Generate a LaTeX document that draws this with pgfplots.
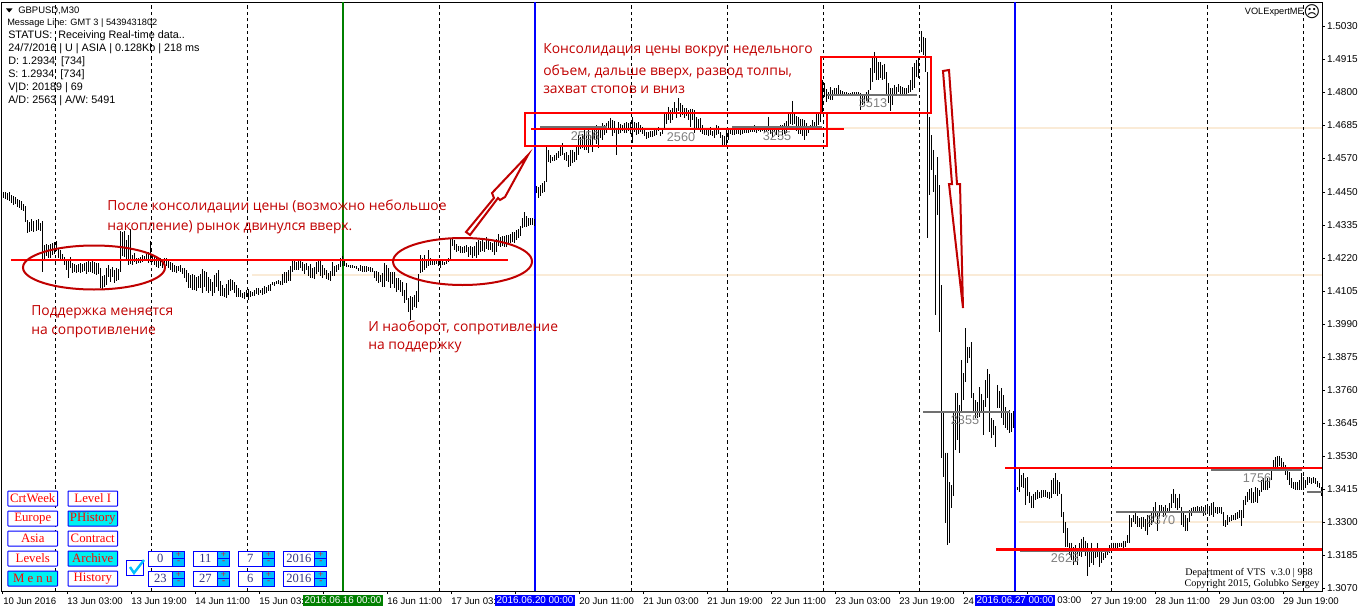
\documentclass[border=0pt]{standalone}
\usepackage{fontspec}
\usepackage{pgfplots}
\usepackage{pgfplotstable}
\pgfplotsset{compat=1.18}
\setmainfont{Liberation Sans}
\newfontfamily\ann{Open Sans}
\newfontfamily\ser{Liberation Serif}
\newfontfamily\dv{DejaVu Sans}
\definecolor{annred}{HTML}{C00000}
\definecolor{cream}{HTML}{FAEBD7}
\definecolor{lvl}{HTML}{707070}
\definecolor{cy}{HTML}{00F0F0}
\definecolor{cb}{HTML}{00BFFF}
\pgfplotstableread{
hi lo
1.4451 1.4430
1.4451 1.4426
1.4447 1.4423
1.4451 1.4420
1.4440 1.4413
1.4437 1.4406
1.4433 1.4409
1.4426 1.4399
1.4423 1.4395
1.4420 1.4388
1.4409 1.4385
1.4402 1.4346
1.4353 1.4308
1.4346 1.4311
1.4357 1.4315
1.4350 1.4311
1.4353 1.4315
1.4357 1.4318
1.4343 1.4315
1.4350 1.4172
1.4266 1.4214
1.4269 1.4228
1.4266 1.4221
1.4269 1.4221
1.4273 1.4231
1.4276 1.4235
1.4280 1.4245
1.4255 1.4221
1.4248 1.4214
1.4235 1.4210
1.4224 1.4196
1.4217 1.4179
1.4217 1.4151
1.4224 1.4186
1.4203 1.4168
1.4200 1.4172
1.4196 1.4168
1.4200 1.4172
1.4203 1.4168
1.4200 1.4172
1.4203 1.4175
1.4207 1.4165
1.4210 1.4172
1.4207 1.4172
1.4210 1.4168
1.4207 1.4165
1.4203 1.4161
1.4203 1.4165
}\sA
\pgfplotstableread{
hi lo
1.4186 1.4116
1.4158 1.4112
1.4161 1.4119
1.4186 1.4126
1.4196 1.4154
1.4182 1.4137
1.4189 1.4154
1.4179 1.4133
1.4186 1.4140
1.4182 1.4144
1.4315 1.4172
1.4311 1.4228
1.4315 1.4224
1.4283 1.4214
1.4301 1.4196
1.4322 1.4200
1.4231 1.4196
1.4238 1.4207
1.4221 1.4200
1.4221 1.4203
1.4224 1.4203
1.4231 1.4207
1.4228 1.4210
1.4235 1.4210
1.4242 1.4203
1.4280 1.4207
1.4235 1.4207
1.4231 1.4196
1.4224 1.4189
1.4221 1.4186
1.4221 1.4193
1.4214 1.4186
1.4221 1.4196
1.4221 1.4193
1.4210 1.4186
1.4207 1.4179
1.4203 1.4172
1.4196 1.4172
1.4193 1.4168
1.4193 1.4175
1.4196 1.4172
1.4186 1.4165
1.4186 1.4151
1.4179 1.4137
1.4168 1.4116
1.4161 1.4116
1.4165 1.4109
1.4161 1.4109
1.4154 1.4105
1.4158 1.4116
}\sB
\pgfplotstableread{
hi lo
1.4165 1.4116
1.4182 1.4098
1.4175 1.4119
1.4172 1.4105
1.4154 1.4098
1.4147 1.4105
1.4137 1.4088
1.4161 1.4098
1.4168 1.4119
1.4179 1.4105
1.4140 1.4088
1.4126 1.4088
1.4116 1.4084
1.4130 1.4081
1.4144 1.4091
1.4147 1.4105
1.4144 1.4109
1.4137 1.4098
1.4126 1.4084
1.4116 1.4084
1.4109 1.4084
1.4098 1.4081
1.4102 1.4077
1.4109 1.4084
1.4112 1.4074
1.4105 1.4084
1.4102 1.4088
1.4109 1.4088
1.4116 1.4095
1.4116 1.4091
1.4109 1.4098
1.4116 1.4091
1.4123 1.4095
1.4119 1.4098
1.4126 1.4105
1.4130 1.4105
1.4137 1.4126
1.4137 1.4123
1.4140 1.4130
1.4144 1.4130
1.4140 1.4126
1.4165 1.4126
1.4172 1.4133
1.4172 1.4133
1.4179 1.4140
1.4193 1.4140
1.4214 1.4172
1.4214 1.4179
1.4207 1.4179
1.4214 1.4179
}\sC
\pgfplotstableread{
hi lo
1.4210 1.4186
1.4207 1.4175
1.4200 1.4165
1.4203 1.4179
1.4193 1.4158
1.4200 1.4151
1.4186 1.4151
1.4189 1.4147
1.4207 1.4165
1.4210 1.4172
1.4214 1.4158
1.4196 1.4151
1.4186 1.4161
1.4179 1.4147
1.4168 1.4144
1.4175 1.4140
1.4207 1.4158
1.4193 1.4158
1.4196 1.4172
1.4200 1.4179
1.4221 1.4189
1.4228 1.4193
1.4214 1.4193
1.4203 1.4189
1.4196 1.4189
1.4196 1.4186
1.4196 1.4186
1.4193 1.4186
1.4193 1.4182
1.4186 1.4175
1.4196 1.4175
1.4193 1.4172
1.4193 1.4172
1.4193 1.4172
1.4189 1.4175
1.4189 1.4172
1.4186 1.4172
1.4175 1.4151
1.4175 1.4140
1.4172 1.4133
1.4161 1.4137
1.4168 1.4119
1.4203 1.4119
1.4196 1.4140
1.4186 1.4137
1.4172 1.4116
1.4172 1.4130
1.4172 1.4116
1.4151 1.4102
1.4151 1.4109
}\sD
\pgfplotstableread{
hi lo
1.4144 1.4102
1.4137 1.4088
1.4109 1.4063
1.4133 1.4074
1.4081 1.4032
1.4088 1.4004
1.4084 1.4039
1.4091 1.4050
1.4105 1.4046
1.4165 1.4067
1.4231 1.4168
1.4221 1.4172
1.4231 1.4179
1.4217 1.4186
1.4248 1.4193
1.4221 1.4196
1.4214 1.4196
1.4217 1.4196
1.4217 1.4200
1.4210 1.4193
1.4214 1.4186
1.4214 1.4196
1.4207 1.4196
1.4217 1.4200
1.4221 1.4207
1.4287 1.4214
1.4287 1.4262
1.4283 1.4248
1.4269 1.4242
1.4262 1.4245
1.4262 1.4238
1.4259 1.4238
1.4262 1.4238
1.4266 1.4242
1.4259 1.4224
1.4262 1.4231
1.4259 1.4221
1.4262 1.4228
1.4276 1.4221
1.4283 1.4231
1.4280 1.4242
1.4283 1.4245
1.4276 1.4242
1.4294 1.4252
1.4283 1.4248
1.4276 1.4248
1.4273 1.4242
1.4280 1.4231
1.4287 1.4242
1.4304 1.4262
}\sE
\pgfplotstableread{
hi lo
1.4294 1.4259
1.4297 1.4262
1.4297 1.4259
1.4301 1.4259
1.4301 1.4266
1.4304 1.4273
1.4311 1.4276
1.4311 1.4273
1.4318 1.4283
1.4322 1.4290
1.4332 1.4297
1.4360 1.4325
1.4381 1.4329
1.4367 1.4329
1.4360 1.4332
1.4360 1.4336
1.4360 1.4336
1.4357 1.4332
1.4472 1.4448
1.4468 1.4430
1.4475 1.4437
1.4482 1.4447
1.4489 1.4451
1.4608 1.4486
1.4598 1.4556
1.4580 1.4552
1.4573 1.4559
1.4580 1.4559
1.4587 1.4563
1.4594 1.4570
1.4611 1.4577
1.4622 1.4580
1.4587 1.4563
1.4591 1.4559
1.4580 1.4538
1.4598 1.4542
1.4598 1.4552
1.4591 1.4556
1.4611 1.4563
1.4650 1.4580
1.4643 1.4601
1.4653 1.4604
1.4667 1.4598
1.4646 1.4598
1.4667 1.4587
1.4650 1.4611
1.4667 1.4591
1.4674 1.4632
1.4685 1.4618
1.4681 1.4604
}\sF
\pgfplotstableread{
hi lo
1.4681 1.4639
1.4692 1.4632
1.4685 1.4650
1.4692 1.4657
1.4699 1.4667
1.4709 1.4667
1.4702 1.4646
1.4699 1.4657
1.4674 1.4580
1.4695 1.4653
1.4688 1.4657
1.4685 1.4664
1.4692 1.4657
1.4695 1.4657
1.4692 1.4664
1.4695 1.4653
1.4713 1.4622
1.4695 1.4660
1.4692 1.4650
1.4695 1.4653
1.4685 1.4660
1.4678 1.4653
1.4671 1.4646
1.4660 1.4636
1.4660 1.4639
1.4664 1.4643
1.4664 1.4643
1.4667 1.4646
1.4674 1.4650
1.4678 1.4664
1.4660 1.4646
1.4671 1.4653
1.4727 1.4674
1.4727 1.4688
1.4748 1.4702
1.4737 1.4692
1.4744 1.4702
1.4765 1.4730
1.4744 1.4709
1.4779 1.4734
1.4762 1.4713
1.4755 1.4720
1.4744 1.4709
1.4744 1.4716
1.4737 1.4702
1.4741 1.4678
1.4741 1.4702
1.4737 1.4657
1.4713 1.4674
1.4706 1.4667
}\sG
\pgfplotstableread{
hi lo
1.4709 1.4660
1.4685 1.4653
1.4674 1.4650
1.4671 1.4650
1.4667 1.4646
1.4678 1.4650
1.4664 1.4646
1.4667 1.4639
1.4685 1.4650
1.4681 1.4653
1.4660 1.4639
1.4650 1.4615
1.4646 1.4611
1.4667 1.4615
1.4667 1.4632
1.4674 1.4653
1.4667 1.4650
1.4667 1.4650
1.4671 1.4653
1.4674 1.4653
1.4671 1.4650
1.4674 1.4653
1.4678 1.4657
1.4674 1.4657
1.4678 1.4657
1.4678 1.4660
1.4681 1.4660
1.4685 1.4660
1.4678 1.4657
1.4681 1.4664
1.4678 1.4660
1.4674 1.4664
1.4678 1.4657
1.4681 1.4660
1.4713 1.4664
1.4678 1.4653
1.4674 1.4643
1.4674 1.4660
1.4671 1.4650
1.4681 1.4643
1.4685 1.4667
1.4685 1.4650
1.4692 1.4653
1.4699 1.4657
1.4727 1.4674
1.4730 1.4688
1.4769 1.4685
1.4723 1.4688
1.4716 1.4664
1.4713 1.4653
}\sH
\pgfplotstableread{
hi lo
1.4706 1.4653
1.4706 1.4646
1.4702 1.4632
1.4692 1.4646
1.4678 1.4657
1.4685 1.4667
1.4702 1.4667
1.4695 1.4674
1.4723 1.4674
1.4730 1.4685
1.4744 1.4695
1.4842 1.4727
1.4831 1.4782
1.4810 1.4765
1.4800 1.4775
1.4817 1.4772
1.4807 1.4772
1.4814 1.4786
1.4814 1.4789
1.4824 1.4793
1.4807 1.4789
1.4803 1.4786
1.4800 1.4786
1.4800 1.4786
1.4797 1.4786
1.4797 1.4786
1.4800 1.4786
1.4800 1.4786
1.4800 1.4789
1.4800 1.4786
1.4797 1.4737
1.4789 1.4755
1.4793 1.4758
1.4800 1.4769
1.4807 1.4765
1.4884 1.4807
1.4922 1.4835
1.4940 1.4866
1.4922 1.4842
1.4905 1.4842
1.4905 1.4849
1.4894 1.4842
1.4898 1.4845
1.4870 1.4789
1.4831 1.4762
1.4814 1.4734
1.4814 1.4755
1.4824 1.4789
1.4817 1.4793
1.4828 1.4800
}\sI
\pgfplotstableread{
hi lo
1.4821 1.4793
1.4817 1.4786
1.4814 1.4793
1.4814 1.4789
1.4824 1.4797
1.4842 1.4800
1.4887 1.4807
1.4901 1.4814
1.4912 1.4852
1.4919 1.4849
}\sJ
\pgfplotstableread{
hi lo
1.5013 1.4940
1.4992 1.4929
1.4988 1.4870
1.4870 1.4290
1.4713 1.4440
1.4650 1.4528
1.4598 1.4451
1.4510 1.4022
1.4573 1.4371
1.4475 1.3962
1.4126 1.3523
1.3680 1.3456
1.3543 1.3296
1.3543 1.3219
1.3439 1.3229
1.3428 1.3348
1.3680 1.3393
1.3749 1.3550
1.3749 1.3585
1.3708 1.3543
1.3865 1.3680
1.3819 1.3725
1.3976 1.3788
1.3910 1.3854
1.3910 1.3872
1.3927 1.3732
1.3749 1.3683
1.3725 1.3662
1.3718 1.3662
1.3770 1.3666
1.3746 1.3680
1.3725 1.3603
1.3795 1.3701
1.3833 1.3732
1.3816 1.3613
1.3662 1.3592
1.3655 1.3603
1.3634 1.3561
1.3777 1.3697
1.3756 1.3697
1.3767 1.3662
1.3742 1.3638
1.3701 1.3627
1.3680 1.3620
1.3690 1.3610
1.3680 1.3613
1.3687 1.3627
}\sK
\pgfplotstableread{
hi lo
1.3421 1.3411
1.3488 1.3404
1.3463 1.3421
1.3470 1.3418
1.3453 1.3359
1.3456 1.3393
1.3404 1.3366
1.3393 1.3348
1.3400 1.3348
1.3404 1.3376
1.3411 1.3380
1.3407 1.3383
1.3411 1.3383
1.3411 1.3387
1.3411 1.3387
1.3407 1.3383
1.3407 1.3380
1.3446 1.3383
1.3453 1.3400
1.3470 1.3400
1.3446 1.3393
1.3439 1.3400
1.3400 1.3317
1.3334 1.3264
1.3299 1.3212
1.3278 1.3212
1.3229 1.3184
1.3229 1.3167
1.3212 1.3149
1.3219 1.3160
1.3208 1.3149
1.3226 1.3181
1.3243 1.3177
1.3247 1.3201
1.3236 1.3181
1.3226 1.3114
1.3201 1.3142
1.3229 1.3156
1.3208 1.3149
1.3208 1.3174
1.3226 1.3177
1.3195 1.3142
1.3201 1.3156
1.3191 1.3167
1.3201 1.3174
1.3208 1.3184
1.3219 1.3191
1.3229 1.3201
1.3229 1.3205
1.3226 1.3208
}\sL
\pgfplotstableread{
hi lo
1.3226 1.3205
1.3229 1.3212
1.3229 1.3212
1.3233 1.3208
1.3233 1.3215
1.3254 1.3226
1.3324 1.3229
1.3313 1.3282
1.3324 1.3299
1.3331 1.3292
1.3320 1.3282
1.3313 1.3282
1.3317 1.3275
1.3317 1.3282
1.3310 1.3271
1.3324 1.3254
1.3324 1.3282
1.3338 1.3289
1.3352 1.3299
1.3369 1.3317
1.3338 1.3271
1.3359 1.3317
1.3359 1.3331
1.3352 1.3317
1.3359 1.3324
1.3348 1.3331
1.3366 1.3334
1.3400 1.3348
1.3414 1.3366
1.3400 1.3348
1.3383 1.3341
1.3400 1.3348
1.3352 1.3289
1.3331 1.3282
1.3324 1.3271
1.3313 1.3271
1.3341 1.3299
1.3348 1.3320
1.3352 1.3331
1.3352 1.3331
1.3355 1.3331
1.3352 1.3334
1.3355 1.3331
1.3352 1.3320
1.3359 1.3324
1.3362 1.3327
1.3355 1.3320
1.3366 1.3324
1.3369 1.3317
1.3352 1.3331
}\sM
\pgfplotstableread{
hi lo
1.3352 1.3327
1.3352 1.3331
1.3352 1.3327
1.3334 1.3285
1.3306 1.3282
1.3324 1.3289
1.3317 1.3299
1.3324 1.3303
1.3324 1.3306
1.3331 1.3306
1.3334 1.3310
1.3341 1.3313
1.3341 1.3285
1.3376 1.3313
1.3393 1.3359
1.3404 1.3369
1.3414 1.3376
1.3418 1.3366
1.3404 1.3366
1.3421 1.3369
1.3418 1.3366
1.3411 1.3393
1.3446 1.3404
1.3453 1.3411
1.3446 1.3411
1.3453 1.3411
1.3453 1.3418
1.3481 1.3446
1.3516 1.3481
1.3526 1.3488
1.3530 1.3491
1.3530 1.3495
1.3523 1.3491
1.3509 1.3481
1.3498 1.3463
1.3488 1.3446
1.3474 1.3428
1.3453 1.3418
1.3439 1.3414
1.3439 1.3411
1.3439 1.3411
1.3446 1.3411
1.3470 1.3411
1.3456 1.3411
1.3446 1.3418
1.3456 1.3428
1.3456 1.3435
1.3453 1.3432
1.3456 1.3435
1.3453 1.3432
1.3442 1.3421
1.3435 1.3418
1.3421 1.3393
}\sN
\newcommand\bars[2]{\addplot[draw=none,mark=none,forget plot,
  error bars/.cd,y dir=minus,y explicit,error mark=none,
  error bar style={black,line width=.75pt,solid}]
  table[x expr=\coordindex*2+#1,y=hi,y error expr=\thisrow{hi}-\thisrow{lo}] {#2};}
\newcommand\btn[6]{\draw[blue,line width=.75pt,fill=#5,rounded corners=.4pt] (#1,#2) rectangle (#3,#4);
  \node[text=red,font=\ser\fontsize{9.6}{10}\selectfont,inner sep=0pt] at ({(#1+#3)/2},{(#2+#4)/2}) {#6};}
\newcommand\spin[4]{\draw[blue,line width=.75pt,fill=white] (#1,#3) rectangle (#2-12,#3+15);
  \draw[blue,line width=.75pt,fill=cb] (#2-12,#3) rectangle (#2,#3+15);
  \draw[blue,line width=.75pt] (#2-12,#3+7.5) -- (#2,#3+7.5);
  \node[text=red,font=\ser\fontsize{7}{7}\selectfont,inner sep=0pt] at (#2-6,#3+3.6) {+};
  \node[text=red,font=\ser\fontsize{7}{7}\selectfont,inner sep=0pt] at (#2-6,#3+11.4) {-};
  \node[text={rgb,255:red,50;green,50;blue,130},font=\ser\fontsize{9.4}{10}\selectfont,inner sep=0pt] at ({(#1+#2-12)/2},#3+7.5) {#4};}
\newcommand\annot[3]{\node[anchor=west,inner sep=0pt,text=annred,font=\ann\fontsize{10.4}{12}\selectfont] at (#1,#2+1.5) {#3};}
\begin{document}
\begin{tikzpicture}
\useasboundingbox (-1.5pt,-15.75pt) rectangle (1020pt,443.25pt);
\begin{axis}[at={(0,0)},anchor=south west,scale only axis,width=990pt,height=441.75pt,
  xmin=2,xmax=1322,ymin=1.3060,ymax=1.5114,
  axis line style={black,line width=.75pt},
  tick align=outside,major tick length=2.4pt,tick style={black,line width=.75pt},
  ytick pos=right,xtick pos=bottom,yticklabel pos=right,
  ytick={1.3070,1.3185,1.3300,1.3415,1.3530,1.3645,1.3760,1.3875,1.3990,1.4105,1.4220,1.4335,1.4450,1.4570,1.4685,1.4800,1.4915,1.5030},
  yticklabel style={/pgf/number format/fixed,/pgf/number format/fixed zerofill,/pgf/number format/precision=4,/pgf/number format/assume math mode=true,font=\fontsize{7.5}{9}\selectfont,anchor=west,xshift=-.8pt,inner sep=2pt},
  scaled y ticks=false,
  xtick={3,67,131,195,259,323,387,451,515,579,643,707,771,835,899,963,1027,1091,1155,1219,1283},
  xticklabels={10 Jun 2016,13 Jun 03:00,13 Jun 19:00,14 Jun 11:00,15 Jun 03:,,16 Jun 11:00,17 Jun 03:,,20 Jun 11:00,21 Jun 03:00,21 Jun 19:00,22 Jun 11:00,23 Jun 03:00,23 Jun 19:00,24,,27 Jun 19:00,28 Jun 11:00,29 Jun 03:00,29 Jun 19:00},
  xticklabel style={font=\fontsize{7.2}{9}\selectfont,anchor=north west,inner sep=0pt,yshift=-2.4pt,xshift=0pt},
  clip=true,
]
% support levels (cream)
\addplot[cream,line width=1.5pt,forget plot] coordinates {(252,1.4161)(1322,1.4161)};
\addplot[cream,line width=1.5pt,forget plot] coordinates {(540,1.4674)(1322,1.4674)};
\addplot[cream,line width=1.5pt,forget plot] coordinates {(1019,1.3299)(1322,1.3299)};
% day separators
\pgfplotsinvokeforeach{55,151,247,439,631,727,823,919,1111,1207,1303}{
  \addplot[black,line width=.75pt,dash pattern=on 2.6pt off 2.2pt,forget plot] coordinates {(#1,1.3060)(#1,1.5114)};
}
\addplot[color={rgb,255:red,0;green,128;blue,0},line width=1.7pt,forget plot] coordinates {(343,1.3060)(343,1.5114)};
\addplot[blue,line width=1.7pt,forget plot] coordinates {(535,1.3060)(535,1.5114)};
\addplot[blue,line width=1.7pt,forget plot] coordinates {(1015,1.3060)(1015,1.5114)};
% price bars
\bars{4}{\sA}\bars{100}{\sB}\bars{200}{\sC}\bars{300}{\sD}\bars{400}{\sE}\bars{500}{\sF}\bars{600}{\sG}\bars{700}{\sH}\bars{800}{\sI}\bars{900}{\sJ}\bars{921}{\sK}\bars{1017}{\sL}\bars{1117}{\sM}\bars{1217}{\sN}
% volume levels (grey)
\addplot[lvl,line width=1.5pt,forget plot] coordinates {(540,1.4678)(607,1.4678)};
\addplot[lvl,line width=1.5pt,forget plot] coordinates {(732,1.4678)(822,1.4678)};
\addplot[lvl,line width=1.5pt,forget plot] coordinates {(827,1.4789)(917,1.4789)};
\addplot[lvl,line width=1.5pt,forget plot] coordinates {(923,1.3683)(1010,1.3683)};
\addplot[lvl,line width=1.5pt,forget plot] coordinates {(1020,1.3201)(1110,1.3201)};
\addplot[lvl,line width=1.5pt,forget plot] coordinates {(1116,1.3334)(1206,1.3334)};
\addplot[lvl,line width=1.5pt,forget plot] coordinates {(1211,1.3481)(1302,1.3481)};
\addplot[lvl,line width=1.5pt,forget plot] coordinates {(1307,1.3407)(1322,1.3407)};
% red levels
\addplot[red,line width=1.7pt,forget plot] coordinates {(11,1.4214)(508,1.4214)};
\addplot[red,line width=1.7pt,forget plot] coordinates {(531,1.4671)(844,1.4671)};
\addplot[red,line width=1.7pt,forget plot] coordinates {(1005,1.3488)(1322,1.3488)};
\addplot[red,line width=1.7pt,forget plot] coordinates {(996,1.3205)(1322,1.3205)};
\end{axis}
\begin{scope}[x=.75pt,y=-.75pt,shift={(-1.5pt,443.25pt)}]
% hover boxes on the time scale
\fill[color={rgb,255:red,0;green,128;blue,0}] (303,595) rectangle (383,606);
\node[white,inner sep=0pt,font=\fontsize{7.4}{9}\selectfont] at (343,600.5) {2016.06.16 00:00};
\fill[blue] (495,595) rectangle (575,606);
\node[white,inner sep=0pt,font=\fontsize{7.4}{9}\selectfont] at (535,600.5) {2016.06.20 00:00};
\fill[blue] (975,595) rectangle (1055,606);
\node[white,inner sep=0pt,font=\fontsize{7.4}{9}\selectfont] at (1015,600.5) {2016.06.27 00:00};
\node[anchor=west,inner sep=0pt,font=\fontsize{7.2}{9}\selectfont] at (1057,600.5) {03:00};
% boxes
\draw[red,line width=1.7pt] (525,113) rectangle (827,146);
\draw[red,line width=1.7pt] (821,57) rectangle (931,113);
\draw[annred,line width=1.5pt] (94,267.5) ellipse (71 and 22);
\draw[annred,line width=1.5pt] (462.5,261.5) ellipse (69.5 and 23.5);
\draw[annred,line width=1.5pt,line join=miter] (466,232)--(494,198)--(492,193)--(528,155)--(505,197)--(500,200)--(498,198)--(470,235)--cycle;
\draw[annred,line width=1.5pt,line join=miter] (943,71)--(949,70)--(957,184)--(960,184)--(963,308)--(949,184)--(952,184)--cycle;
% annotations
\annot{107}{205}{После консолидации цены (возможно небольшое}
\annot{107}{226}{накопление) рынок двинулся вверх.}
\annot{31}{311}{Поддержка меняется}
\annot{31}{331}{на сопротивление}
\annot{368}{326}{И наоборот, сопротивление}
\annot{368}{346}{на поддержку}
\annot{543}{49}{Консолидация цены вокруг недельного}
\annot{543}{70}{объем, дальше вверх, развод толпы,}
\annot{543}{88}{захват стопов и вниз}
% level volumes
\foreach \px/\py/\t in {585/136/2556,681/137/2560,777/136/3255,873/103/3513,965/420/2355,1065/558/2623,1161/520/3370,1257/478/1756}
  \node[text={rgb,255:red,128;green,128;blue,128},inner sep=0pt,font=\fontsize{9.5}{10}\selectfont] at (\px,\py) {\t};
% header
\fill[black] (6,8.5)--(12.5,8.5)--(9.2,12.5)--cycle;
\node[anchor=west,inner sep=0pt,font=\fontsize{7.1}{9}\selectfont] at (18,10.5) {GBPUSD,M30};
\node[anchor=west,inner sep=0pt,font=\fontsize{6.9}{8}\selectfont] at (7,23.5) {Message Line: GMT 3 | 5439431802};
\node[anchor=west,inner sep=0pt,font=\fontsize{8.1}{9}\selectfont] at (8,36) {STATUS:\ \ Receiving Real-time data..};
\node[anchor=west,inner sep=0pt,font=\fontsize{8.1}{9}\selectfont] at (8,49) {24/7/2016 | U | ASIA | 0.128Kb | 218 ms};
\node[anchor=west,inner sep=0pt,font=\fontsize{8.1}{9}\selectfont] at (8,62) {D: 1.2934\ \ [734]};
\node[anchor=west,inner sep=0pt,font=\fontsize{8.1}{9}\selectfont] at (8,75) {S: 1.2934\ \ [734]};
\node[anchor=west,inner sep=0pt,font=\fontsize{8.1}{9}\selectfont] at (8,88) {V|D: 20189 | 69};
\node[anchor=west,inner sep=0pt,font=\fontsize{8.1}{9}\selectfont] at (8,101) {A/D: 2563 | A/W: 5491};
\node[anchor=east,inner sep=0pt,font=\fontsize{6.9}{9}\selectfont] at (1304,12) {VOLExpertME};
\node[inner sep=0pt,font=\dv\fontsize{12}{12}\selectfont] at (1312,12) {☹};
% buttons
\btn{8}{491}{57.5}{506}{white}{CrtWeek}
\btn{8}{511}{57.5}{526}{white}{Europe}
\btn{8}{531}{57.5}{546}{white}{Asia}
\btn{8}{551}{57.5}{566}{white}{Levels}
\btn{8}{571}{57.5}{586}{cy}{M e n u}
\btn{68}{491}{117.5}{506}{white}{Level I}
\btn{68}{511}{117.5}{526}{cy}{PHistory}
\btn{68}{531}{117.5}{546}{white}{Contract}
\btn{68}{551}{117.5}{566}{cy}{Archive}
\btn{68}{571}{117.5}{586}{white}{History}
\draw[blue,line width=.75pt] (126,560) rectangle (143,575);
\draw[color=cb,line width=1.8pt] (130,567)--(134,573)--(144,560);
\spin{148}{184.6}{551}{0}
\spin{193}{229.6}{551}{11}
\spin{238}{274.6}{551}{7}
\spin{283}{326.8}{551}{2016}
\spin{148}{184.6}{571}{23}
\spin{193}{229.6}{571}{27}
\spin{238}{274.6}{571}{6}
\spin{283}{326.8}{571}{2016}
\node[inner sep=0pt,font=\ser\fontsize{7.6}{9}\selectfont] at (1249,573) {Department of VTS\ \ v.3.0 | 988};
\node[inner sep=0pt,font=\ser\fontsize{7.6}{9}\selectfont] at (1252,584) {Copyright 2015, Golubko Sergey};
\end{scope}
\end{tikzpicture}
\end{document}
